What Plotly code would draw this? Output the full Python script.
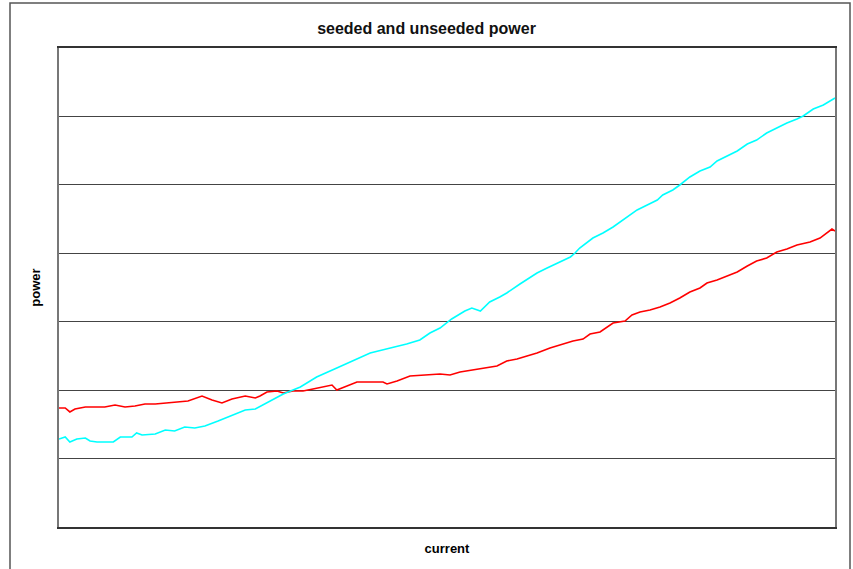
import plotly.graph_objects as go

# seeded (cyan) series
seeded_current = [0.0, 0.8, 1.4, 2.3, 3.4, 4.0, 4.9, 6.0, 7.0, 7.9, 9.4, 10.0, 10.7, 12.4, 13.7, 14.9,
                  16.2, 17.5, 18.8, 20.5, 22.7, 24.0, 25.3, 27.2, 28.9, 31.1, 33.2, 35.8, 37.5, 40.1,
                  42.7, 44.8, 46.5, 47.8, 49.1, 50.6, 52.3, 53.2, 54.3, 55.5, 56.8, 57.7, 59.4, 60.7,
                  61.6, 62.9, 64.2, 65.9, 66.5, 67.1, 68.8, 70.1, 71.4, 72.7, 73.6, 74.5, 75.8, 77.1,
                  77.8, 79.1, 80.0, 81.3, 82.6, 83.9, 84.8, 86.1, 87.4, 88.7, 89.9, 91.2, 92.5, 93.8,
                  95.1, 95.9, 97.2, 98.5, 100.0]
seeded_power = [1.286, 1.315, 1.242, 1.286, 1.301, 1.257, 1.242, 1.242, 1.242, 1.315, 1.315, 1.374,
                1.344, 1.359, 1.418, 1.403, 1.461, 1.447, 1.476, 1.549, 1.651, 1.710, 1.724, 1.841,
                1.944, 2.046, 2.192, 2.324, 2.411, 2.543, 2.616, 2.674, 2.733, 2.835, 2.908, 3.040,
                3.157, 3.200, 3.157, 3.288, 3.361, 3.420, 3.551, 3.639, 3.712, 3.785, 3.858, 3.946,
                4.004, 4.077, 4.223, 4.296, 4.384, 4.486, 4.559, 4.633, 4.706, 4.779, 4.852, 4.925,
                4.998, 5.115, 5.202, 5.261, 5.349, 5.422, 5.495, 5.597, 5.655, 5.758, 5.831, 5.904,
                5.962, 6.006, 6.108, 6.167, 6.269]

# unseeded (red) series
unseeded_current = [0.0, 0.8, 1.4, 2.06, 3.4, 4.64, 5.9, 7.22, 8.51, 9.79, 11.08, 12.4, 13.7, 14.9,
                    16.62, 18.43, 19.72, 21.0, 22.29, 24.0, 25.3, 25.9, 26.8, 28.09, 28.9, 30.15,
                    31.44, 32.73, 34.02, 35.18, 35.8, 37.11, 38.4, 41.75, 42.27, 43.56, 45.23, 49.1,
                    50.39, 51.68, 53.35, 54.64, 56.44, 57.7, 59.02, 60.31, 61.6, 63.27, 64.56, 66.24,
                    67.53, 68.43, 69.72, 71.4, 72.94, 73.84, 74.87, 76.16, 77.45, 78.74, 80.0, 81.3,
                    82.6, 83.5, 84.8, 86.1, 87.4, 88.7, 89.9, 91.2, 92.5, 93.8, 95.1, 96.78, 98.07,
                    99.61, 100.0]
unseeded_power = [1.739, 1.739, 1.681, 1.724, 1.754, 1.754, 1.754, 1.783, 1.754, 1.768, 1.797, 1.797,
                  1.812, 1.827, 1.841, 1.914, 1.856, 1.812, 1.871, 1.914, 1.885, 1.914, 1.973, 1.987,
                  1.958, 1.987, 1.987, 2.017, 2.046, 2.075, 2.002, 2.061, 2.119, 2.119, 2.090, 2.134,
                  2.207, 2.236, 2.221, 2.265, 2.294, 2.324, 2.353, 2.426, 2.455, 2.499, 2.543, 2.616,
                  2.660, 2.718, 2.747, 2.820, 2.850, 2.981, 3.010, 3.098, 3.142, 3.171, 3.215, 3.273,
                  3.346, 3.434, 3.493, 3.566, 3.609, 3.668, 3.726, 3.814, 3.887, 3.931, 4.019, 4.063,
                  4.121, 4.165, 4.223, 4.355, 4.326]

fig = go.Figure()
fig.add_trace(go.Scatter(x=unseeded_current, y=unseeded_power, mode="lines", name="unseeded",
                         line=dict(color="#ff0000", width=1.6)))
fig.add_trace(go.Scatter(x=seeded_current, y=seeded_power, mode="lines", name="seeded",
                         line=dict(color="#00ffff", width=1.6)))

fig.update_layout(
    width=853, height=569,
    margin=dict(l=59, r=18, t=48, b=42),
    paper_bgcolor="white", plot_bgcolor="white",
    showlegend=False,
    font=dict(family="Liberation Sans, Arial, sans-serif", color="black"),
    title=dict(text="<b>seeded and unseeded power</b>", x=0.5, xanchor="center",
               y=1 - 28 / 569, yanchor="middle", font=dict(size=16, color="#111")),
    xaxis=dict(range=[0, 100], showticklabels=False, ticks="", showgrid=False, zeroline=False,
               showline=True, linecolor="#333", linewidth=1.5, mirror=True,
               title=dict(text="<b>current</b>", font=dict(size=13), standoff=16)),
    yaxis=dict(range=[0, 7], dtick=1, showticklabels=False, ticks="", showgrid=True,
               gridcolor="#444", gridwidth=1, zeroline=False,
               showline=True, linecolor="#777", linewidth=1.5, mirror=True,
               title=dict(text="<b>power</b>", font=dict(size=13), standoff=14)),
    shapes=[dict(type="rect", xref="paper", yref="paper",
                 x0=-49 / 776, x1=791 / 776, y0=-50 / 479, y1=524 / 479,
                 line=dict(color="#555", width=1.5), fillcolor="rgba(0,0,0,0)", layer="below")],
)

fig.write_html("out.html", config={"displayModeBar": False},
               post_script="document.body.style.margin='0';document.body.style.overflow='hidden';")
